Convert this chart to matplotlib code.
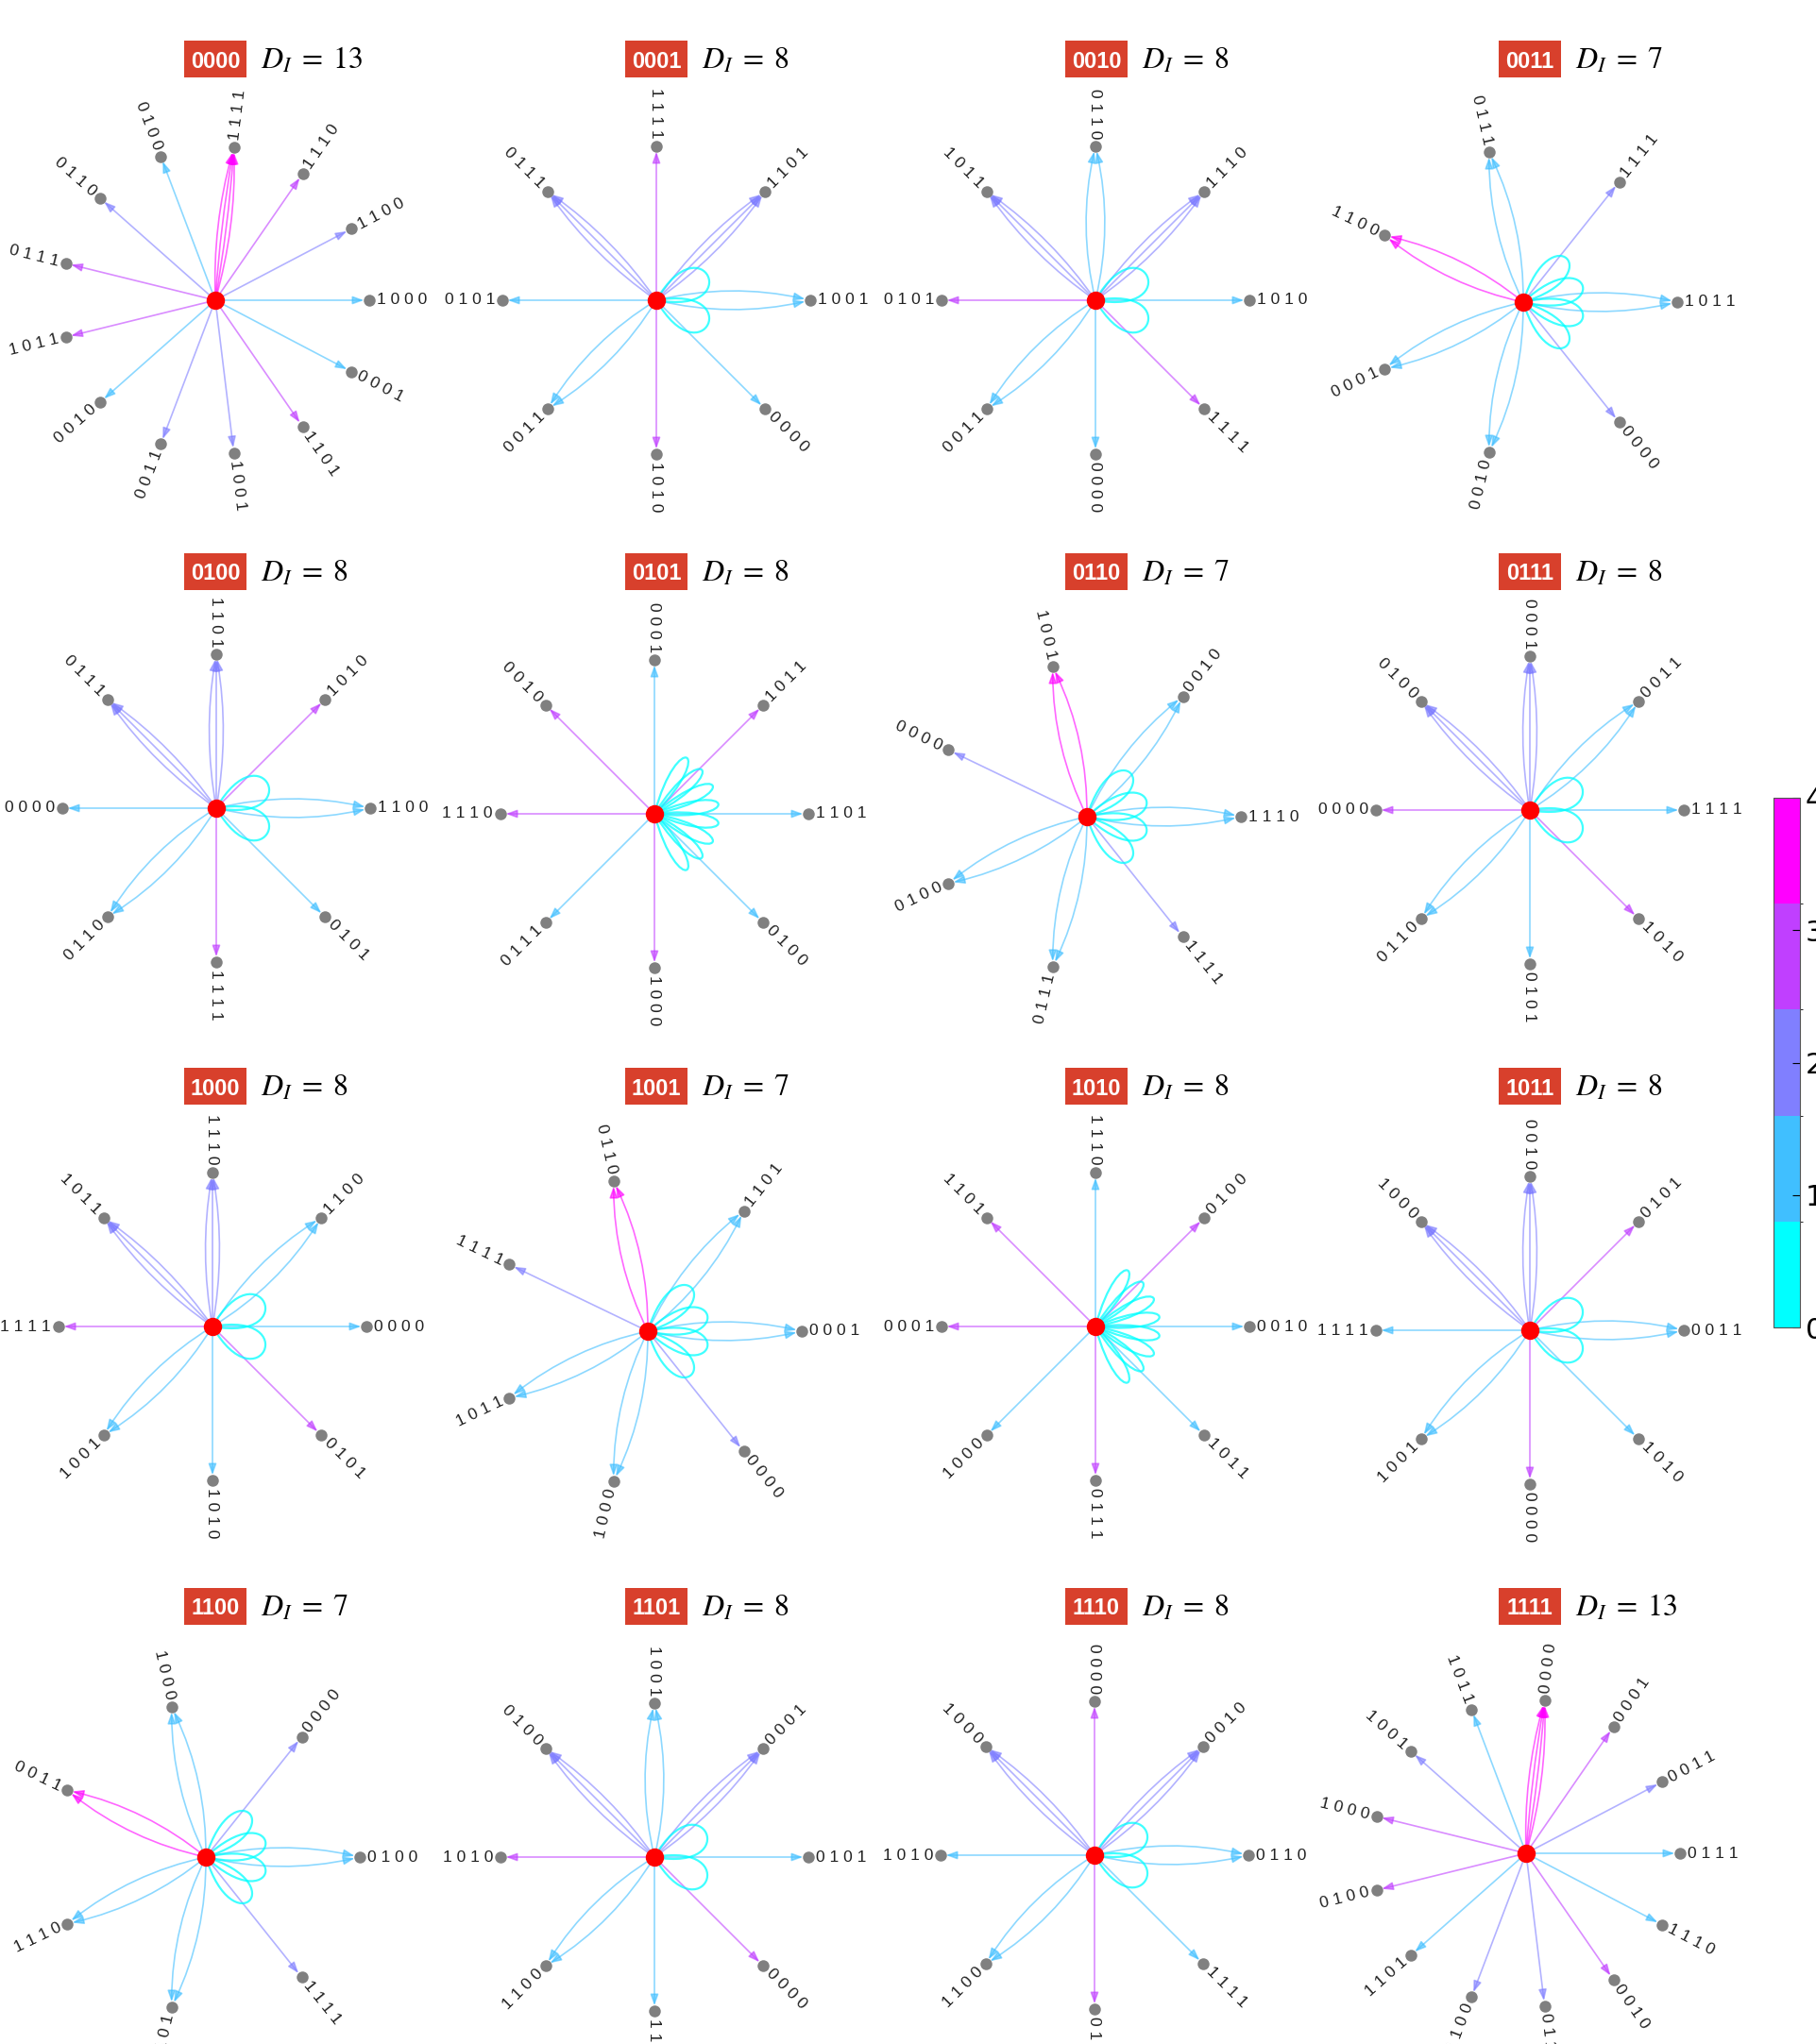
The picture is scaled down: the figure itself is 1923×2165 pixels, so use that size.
import numpy as np
import matplotlib
matplotlib.use("Agg")
import matplotlib.pyplot as plt
from matplotlib.patches import FancyArrowPatch, PathPatch, Rectangle
from matplotlib.path import Path
from matplotlib.colors import ListedColormap, BoundaryNorm
import matplotlib.cm as cm

plt.rcParams["mathtext.fontset"] = "stix"

W, H, DPI = 1924, 2165, 100

# ---------------------------------------------------------------- data
STATES = ["0000", "0001", "0010", "0011", "0100", "0101", "0110", "0111",
          "1000", "1001", "1010", "1011", "1100", "1101", "1110", "1111"]
D_I = [13, 8, 8, 7, 8, 8, 7, 8, 8, 7, 8, 8, 7, 8, 8, 13]

# neighbours in counter-clockwise order, starting from the right
NEIGHBORS = [
    ["1000", "1100", "1110", "1111", "0100", "0110", "0111",
     "1011", "0010", "0011", "1001", "1101", "0001"],
    ["1001", "1101", "1111", "0111", "0101", "0011", "1010", "0000"],
    ["1010", "1110", "0110", "1011", "0101", "0011", "0000", "1111"],
    ["1011", "1111", "0111", "1100", "0001", "0010", "0000"],
    ["1100", "1010", "1101", "0111", "0000", "0110", "1111", "0101"],
    ["1101", "1011", "0001", "0010", "1110", "0111", "1000", "0100"],
    ["1110", "0010", "1001", "0000", "0100", "0111", "1111"],
    ["1111", "0011", "0001", "0100", "0000", "0110", "0101", "1010"],
    ["0000", "1100", "1110", "1011", "1111", "1001", "1010", "0101"],
    ["0001", "1101", "0110", "1111", "1011", "1000", "0000"],
    ["0010", "0100", "1110", "1101", "0001", "1000", "0111", "1011"],
    ["0011", "0101", "0010", "1000", "1111", "1001", "0000", "1010"],
    ["0100", "0000", "1000", "0011", "1110", "1101", "1111"],
    ["0101", "0001", "1001", "0100", "1010", "1100", "1111", "0000"],
    ["0110", "0010", "0000", "1000", "1010", "1100", "0101", "1111"],
    ["0111", "0011", "0001", "0000", "1011", "1001", "1000",
     "0100", "1101", "1100", "0110", "0010", "1110"],
]
# number of parallel edges to each neighbour
MULTIPLICITY = [
    [1, 1, 1, 4, 1, 1, 1, 1, 1, 1, 1, 1, 1],
    [2, 3, 1, 3, 1, 2, 1, 1],
    [1, 3, 2, 3, 1, 2, 1, 1],
    [2, 1, 2, 2, 2, 2, 1],
    [2, 1, 3, 3, 1, 2, 1, 1],
    [1, 1, 1, 1, 1, 1, 1, 1],
    [2, 2, 2, 1, 2, 2, 1],
    [1, 2, 3, 3, 1, 2, 1, 1],
    [1, 2, 3, 3, 1, 2, 1, 1],
    [2, 2, 2, 1, 2, 2, 1],
    [1, 1, 1, 1, 1, 1, 1, 1],
    [2, 1, 3, 3, 1, 2, 1, 1],
    [2, 1, 2, 2, 2, 2, 1],
    [1, 3, 2, 3, 1, 2, 1, 1],
    [2, 3, 1, 3, 1, 2, 1, 1],
    [1, 1, 1, 4, 1, 1, 1, 1, 1, 1, 1, 1, 1],
]
SELF_LOOPS = [0, 2, 2, 4, 2, 8, 4, 2, 2, 4, 8, 2, 4, 2, 2, 0]
CBAR_TICKS = [0, 1, 2, 3, 4]

# ---------------------------------------------------------------- layout (px)
CENTERS = [(228, 318), (695, 318), (1160, 318), (1613, 320),
           (229, 856), (693, 862), (1151, 865), (1620, 858),
           (225, 1405), (686, 1410), (1160, 1405), (1620, 1409),
           (218, 1967), (693, 1967), (1159, 1965), (1616, 1963)]
TITLE_X = [195, 662, 1128, 1587]
TITLE_Y = [62, 605, 1150, 1701]
R = 163
RADS = {1: [0.0], 2: [-0.12, 0.12], 3: [-0.09, 0.0, 0.09],
        4: [-0.08, -0.027, 0.027, 0.08]}
# loops: (outer direction, half width, reach as fraction of R)
LOOP_FAN = {2: (25, 35, 0.37), 4: (45, 28, 0.40), 8: (60, 15, 0.42)}

cmap = ListedColormap(plt.get_cmap("cool")(np.linspace(0, 1, 5)))


def hamming(a, b):
    return sum(x != y for x, y in zip(a, b))


def polar(cx, cy, ang, r):
    a = np.deg2rad(ang)
    return cx + r * np.cos(a), cy - r * np.sin(a)


fig = plt.figure(figsize=(W / DPI, H / DPI), dpi=DPI)
ax = fig.add_axes([0, 0, 1, 1])
ax.set_xlim(0, W)
ax.set_ylim(H, 0)
ax.axis("off")

for i, state in enumerate(STATES):
    cx, cy = CENTERS[i]
    nbrs = NEIGHBORS[i]
    n = len(nbrs)
    for k, (nb, m) in enumerate(zip(nbrs, MULTIPLICITY[i])):
        ang = 360.0 * k / n
        x, y = polar(cx, cy, ang, R)
        col = cmap(hamming(state, nb))
        for rad in RADS[m]:
            ax.add_patch(FancyArrowPatch(
                (cx, cy), (x, y), connectionstyle=f"arc3,rad={rad}",
                arrowstyle="-|>,head_length=0.5,head_width=0.18",
                mutation_scale=14, color=col, alpha=0.6, lw=1.2,
                shrinkA=0, shrinkB=4, zorder=2))
        ax.plot(x, y, "o", color="#808080", ms=9, mec="none", zorder=4)
        a = ang if ang <= 180 else ang - 360
        if -90 <= a < 90:
            rot, ha = a, "left"
        elif a >= 90:
            rot, ha = a - 180, "right"
        else:
            rot, ha = a + 180, "right"
        lx, ly = polar(cx, cy, ang, R + 8)
        ax.text(lx, ly, " ".join(nb), rotation=rot, rotation_mode="anchor",
                ha=ha, va="center", fontsize=12.5, family="Liberation Sans",
                color="#222222", zorder=5)

    nl = SELF_LOOPS[i]
    if nl:
        A, w, reach = LOOP_FAN[nl]
        d = reach * R / (0.75 * np.cos(np.deg2rad(w)))
        for alpha in np.linspace(-A, A, nl):
            p1 = polar(cx, cy, alpha + w, d)
            p2 = polar(cx, cy, alpha - w, d)
            path = Path([(cx, cy), p1, p2, (cx, cy)],
                        [Path.MOVETO, Path.CURVE4, Path.CURVE4, Path.CURVE4])
            ax.add_patch(PathPatch(path, fill=False, edgecolor=cmap(0),
                                   lw=1.6, alpha=0.75, zorder=3))

    ax.plot(cx, cy, "o", color="red", ms=14, mec="none", zorder=6)

    tx, ty = TITLE_X[i % 4], TITLE_Y[i // 4]
    ax.add_patch(Rectangle((tx, ty - 19.5), 66, 39, fc="#D8402C", ec="none",
                           zorder=5))
    ax.text(tx + 33, ty + 9.5, state, color="white", fontsize=17,
            fontweight="bold", family="Liberation Sans", ha="center",
            va="baseline", zorder=6)
    ax.text(tx + 81, ty + 10.5, rf"$D_I\;=\;{D_I[i]}$", fontsize=23,
            ha="left", va="baseline", color="black")

# ---------------------------------------------------------------- colorbar
cax = fig.add_axes([1878 / W, 1 - 1406 / H, 28 / W, 561 / H])
norm = BoundaryNorm(np.linspace(0, 4, 6), cmap.N)
sm = cm.ScalarMappable(norm=norm, cmap=cmap)
cb = fig.colorbar(sm, cax=cax, ticks=CBAR_TICKS)
cb.ax.tick_params(direction="in", length=6, width=0.8, labelsize=22, pad=4)
cb.outline.set_linewidth(0.8)
cb.outline.set_edgecolor("#555555")

fig.savefig("out.png", dpi=DPI)
